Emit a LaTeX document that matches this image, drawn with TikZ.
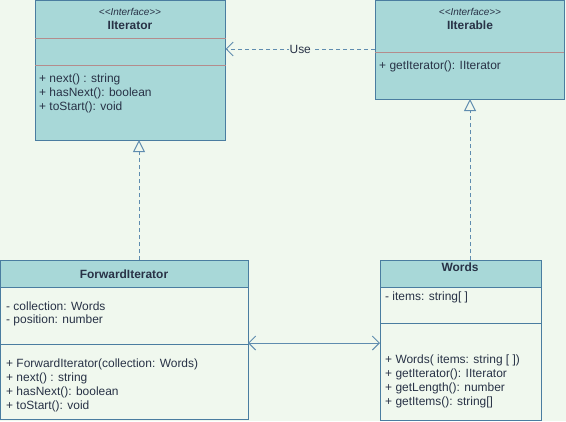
\documentclass[tikz,border=0pt]{standalone}
\usepackage{fontspec}
\setmainfont{Liberation Sans}[Ligatures=NoCommon]
\usetikzlibrary{arrows.meta,calc}
\definecolor{bg}{RGB}{240,248,238}
\definecolor{tealfill}{RGB}{168,216,216}
\definecolor{bord}{RGB}{74,125,160}
\definecolor{sepc}{RGB}{180,140,140}
\definecolor{txt}{RGB}{40,50,70}
\definecolor{conn}{RGB}{95,140,175}
\begin{document}
\begin{tikzpicture}[x=1bp,y=-1bp,
  font=\fontsize{12}{14}\selectfont,
  every node/.style={text=txt},
  boxshape/.style={draw=bord, line width=1bp, inner sep=0pt, outer sep=0pt, anchor=north west, rectangle},
  txtl/.style={anchor=west, inner sep=0pt},
  stereo/.style={inner sep=0pt, font=\fontsize{10}{12}\selectfont\itshape},
  cname/.style={inner sep=0pt, font=\fontsize{12}{14}\selectfont\bfseries},
  dashline/.style={draw=conn, line width=1bp, dash pattern=on 4bp off 3bp},
  barbtip/.tip={Straight Barb[length=7bp,width=14bp,line width=1bp]},
  tritip/.tip={Triangle[open,length=12bp,width=12bp,line width=1bp,fill=bg]}
]
\fill[bg] (0,0) rectangle (566,421);
\useasboundingbox (0,0) rectangle (566,421);

% IIterator
\node[boxshape, fill=tealfill, minimum width=190.5bp, minimum height=139.5bp] (ii) at (35,0.5) {};
\draw[sepc, line width=1bp] (35,38) -- (225.5,38);
\draw[sepc, line width=1bp] (35,65) -- (225.5,65);
\node[stereo] (iis) at (130,12) {{<}{<}Interface{>}{>}};
\node[cname] (iin) at (130,25) {IIterator};
\node[txtl] (ii1) at (39,79) {+ next() : string};
\node[txtl] (ii2) at (39,93) {+ hasNext(): boolean};
\node[txtl] (ii3) at (39,107) {+ toStart(): void};

% IIterable
\node[boxshape, fill=tealfill, minimum width=189bp, minimum height=98.5bp] (it) at (375,0.5) {};
\draw[sepc, line width=1bp] (375,52) -- (564,52);
\node[stereo] (its) at (470,12) {{<}{<}Interface{>}{>}};
\node[cname] (itn) at (470,25) {IIterable};
\node[txtl] (it1) at (379,66) {+ getIterator(): IIterator};

% ForwardIterator
\node[boxshape, fill=bg, minimum width=247.5bp, minimum height=159.5bp] (fi) at (0.5,260) {};
\fill[tealfill] (1,260.5) rectangle (247.5,287);
\draw[bord, line width=1bp] (0.5,287) -- (248,287);
\draw[bord, line width=1bp] (0.5,344) -- (248,344);
\draw[bord, line width=1bp] (0.5,260) rectangle (248,419.5);
\node[cname] (fin) at (124,274) {ForwardIterator};
\node[txtl] (fi1) at (6,306) {- collection: Words};
\node[txtl] (fi2) at (6,320) {- position: number};
\node[txtl] (fi3) at (6,364) {+ ForwardIterator(collection: Words)};
\node[txtl] (fi4) at (6,378) {+ next() : string};
\node[txtl] (fi5) at (6,392) {+ hasNext(): boolean};
\node[txtl] (fi6) at (6,406) {+ toStart(): void};

% Words
\node[boxshape, fill=bg, minimum width=161bp, minimum height=160bp] (wd) at (380,260) {};
\fill[tealfill] (380.5,260.5) rectangle (540.5,287);
\draw[bord, line width=1bp] (380,287) -- (541,287);
\draw[bord, line width=1bp] (380,323) -- (541,323);
\draw[bord, line width=1bp] (380,260) rectangle (541,420);
\node[cname] (wdn) at (460,267) {Words};
\node[txtl] (wd1) at (385,297) {- items: string[ ]};
\node[txtl] (wd2) at (385,360) {+ Words( items: string [ ])};
\node[txtl] (wd3) at (385,374) {+ getIterator(): IIterator};
\node[txtl] (wd4) at (385,388) {+ getLength(): number};
\node[txtl] (wd5) at (385,402) {+ getItems(): string[]};

% connectors
\coordinate (u) at (0,49);
\coordinate (a1) at (139,0);
\coordinate (a2) at (470,0);
\coordinate (b) at (0,343);
\draw[dashline, -{barbtip}] (it.west |- u) -- (ii.east |- u)
  node[midway, fill=bg, inner sep=1pt, text=txt] (use) {Use};
\draw[dashline, -{tritip}] (fi.north -| a1) -- (ii.south -| a1);
\draw[dashline, -{tritip}] (wd.north -| a2) -- (it.south -| a2);
\draw[conn, line width=1bp, {barbtip}-{barbtip}] (fi.east |- b) -- (wd.west |- b);
\end{tikzpicture}
\end{document}
